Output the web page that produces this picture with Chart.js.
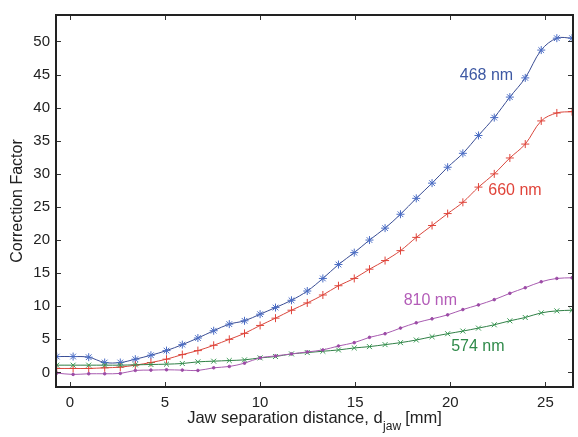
<!DOCTYPE html>
<html>
<head>
<meta charset="utf-8">
<script src="https://cdn.jsdelivr.net/npm/chart.js@4/dist/chart.umd.min.js"></script>
<style>
html,body{margin:0;padding:0;background:#fff;}
#wrap{width:578px;height:437px;position:relative;}
</style>
</head>
<body>
<div id="wrap"><canvas id="c" width="578" height="437"></canvas></div>
<script>
// Jaw separation distance (mm)
const jawDistance = [-0.69, 0.17, 0.99, 1.83, 2.65, 3.44, 4.26, 5.08, 5.91, 6.73, 7.56, 8.38, 9.18, 10.00, 10.81, 11.65, 12.48, 13.30, 14.12, 14.95, 15.75, 16.57, 17.38, 18.21, 19.04, 19.86, 20.66, 21.48, 22.31, 23.13, 23.94, 24.78, 25.60, 26.40];
// Correction factor per wavelength
const cf468 = [2.4, 2.4, 2.3, 1.5, 1.5, 2.0, 2.6, 3.3, 4.2, 5.2, 6.3, 7.3, 7.8, 8.8, 9.8, 10.9, 12.3, 14.2, 16.3, 18.1, 20.0, 21.8, 23.9, 26.3, 28.6, 31.0, 33.1, 35.8, 38.5, 41.6, 44.5, 48.7, 50.5, 50.5];
const cf660 = [0.6, 0.6, 0.6, 0.7, 0.8, 1.1, 1.5, 2.0, 2.7, 3.3, 4.1, 5.0, 5.9, 7.1, 8.2, 9.4, 10.5, 11.7, 13.1, 14.2, 15.6, 16.9, 18.4, 20.4, 22.2, 24.0, 25.7, 28.0, 30.0, 32.4, 34.5, 38.0, 39.2, 39.4];
const cf574 = [1.1, 1.1, 1.1, 1.1, 1.1, 1.15, 1.2, 1.25, 1.35, 1.6, 1.7, 1.8, 1.9, 2.2, 2.4, 2.8, 3.0, 3.2, 3.4, 3.7, 3.9, 4.2, 4.5, 4.9, 5.4, 5.85, 6.25, 6.7, 7.2, 7.8, 8.3, 9.0, 9.3, 9.4];
const cf810 = [-0.1, -0.3, -0.2, -0.2, -0.15, 0.3, 0.35, 0.4, 0.35, 0.3, 0.7, 0.9, 1.4, 2.2, 2.5, 2.8, 3.1, 3.4, 4.0, 4.5, 5.3, 5.85, 6.7, 7.5, 8.1, 8.7, 9.5, 10.2, 11.0, 11.95, 12.8, 13.7, 14.2, 14.3];
const seriesNames = ["468 nm", "660 nm", "574 nm", "810 nm"];
const xTicks = [0, 5, 10, 15, 20, 25];
const yTicks = [0, 5, 10, 15, 20, 25, 30, 35, 40, 45, 50];

const toPts = ys => jawDistance.map((x, i) => ({x: x, y: ys[i]}));

const FONT = '"Liberation Sans", Arial, Helvetica, sans-serif';

const decor = {
  id: 'decor',
  afterDraw(chart) {
    const ctx = chart.ctx;
    const a = chart.chartArea;
    const xs = chart.scales.x, ys = chart.scales.y;
    ctx.save();
    // inward ticks
    ctx.strokeStyle = '#333';
    ctx.lineWidth = 1;
    ctx.beginPath();
    xTicks.forEach(v => {
      const px = Math.round(xs.getPixelForValue(v)) + 0.5;
      ctx.moveTo(px, a.bottom); ctx.lineTo(px, a.bottom - 5);
      ctx.moveTo(px, a.top); ctx.lineTo(px, a.top + 5);
    });
    yTicks.forEach(v => {
      const py = Math.round(ys.getPixelForValue(v)) + 0.5;
      ctx.moveTo(a.left, py); ctx.lineTo(a.left + 5, py);
      ctx.moveTo(a.right, py); ctx.lineTo(a.right - 5, py);
    });
    ctx.stroke();
    // frame
    ctx.strokeStyle = '#222';
    ctx.lineWidth = 2;
    ctx.strokeRect(a.left, a.top, a.right - a.left, a.bottom - a.top);

    // y title
    ctx.fillStyle = '#222';
    ctx.font = '16px ' + FONT;
    ctx.textAlign = 'center';
    ctx.textBaseline = 'middle';
    ctx.save();
    ctx.translate(18, (a.top + a.bottom) / 2);
    ctx.rotate(-Math.PI / 2);
    ctx.fillText('Correction Factor', 0, 0);
    ctx.restore();

    // x title with subscript
    const main = 'Jaw separation distance, d';
    const sub = 'jaw';
    const tail = ' [mm]';
    ctx.font = '16.5px ' + FONT;
    const wMain = ctx.measureText(main).width;
    const wTail = ctx.measureText(tail).width;
    ctx.font = '12px ' + FONT;
    const wSub = ctx.measureText(sub).width;
    const total = wMain + wSub + wTail;
    let x0 = (a.left + a.right) / 2 - total / 2;
    const yBase = 423;
    ctx.textAlign = 'left';
    ctx.textBaseline = 'alphabetic';
    ctx.font = '16.5px ' + FONT;
    ctx.fillText(main, x0, yBase);
    ctx.font = '12px ' + FONT;
    ctx.fillText(sub, x0 + wMain + 0.5, yBase + 7);
    ctx.font = '16.5px ' + FONT;
    ctx.fillText(tail, x0 + wMain + wSub, yBase);

    // series labels
    const labels = [
      {t: seriesNames[0], x: 21.9, y: 44.8, c: '#3d58a3'},
      {t: seriesNames[1], x: 23.4, y: 27.5, c: '#e0443a'},
      {t: seriesNames[3], x: 18.95, y: 10.9, c: '#b35cb8'},
      {t: seriesNames[2], x: 21.45, y: 3.9, c: '#2f8a4a'}
    ];
    ctx.font = '16px ' + FONT;
    ctx.textAlign = 'center';
    ctx.textBaseline = 'middle';
    labels.forEach(l => {
      ctx.fillStyle = l.c;
      ctx.fillText(l.t, xs.getPixelForValue(l.x), ys.getPixelForValue(l.y));
    });
    ctx.restore();
  }
};

function ds(label, ys, line, mark, style, r) {
  return {
    label: label,
    data: toPts(ys),
    borderColor: line,
    backgroundColor: mark,
    pointBorderColor: mark,
    pointBackgroundColor: mark,
    pointStyle: style,
    pointRadius: r,
    pointBorderWidth: 1,
    borderWidth: 1,
    tension: 0.35,
    fill: false
  };
}

new Chart(document.getElementById('c'), {
  type: 'line',
  data: {
    datasets: [
      ds(seriesNames[3], cf810, '#a85bb0', '#9b4aa5', 'circle', 1.3),
      ds(seriesNames[2], cf574, '#2f7f45', '#3a9a55', 'crossRot', 3.5),
      ds(seriesNames[1], cf660, '#d9473d', '#e0443a', 'cross', 4),
      ds(seriesNames[0], cf468, '#3a4d94', '#4a6cc4', 'star', 4)
    ]
  },
  options: {
    responsive: false,
    animation: false,
    devicePixelRatio: 1,
    layout: {padding: {top: 9, right: 1, left: 0, bottom: 0}},
    plugins: {legend: {display: false}, tooltip: {enabled: false}},
    scales: {
      x: {
        type: 'linear',
        min: -0.73, max: 26.45,
        grid: {display: false, drawTicks: false},
        border: {display: false},
        ticks: {stepSize: 5, includeBounds: false, padding: 7, color: '#222', font: {family: FONT, size: 15}, maxRotation: 0},
        afterFit(s) { s.height = 50; }
      },
      y: {
        min: -2.2, max: 54,
        grid: {display: false, drawTicks: false},
        border: {display: false},
        ticks: {stepSize: 5, includeBounds: false, padding: 6, color: '#222', font: {family: FONT, size: 15}},
        afterFit(s) { s.width = 56; }
      }
    }
  },
  plugins: [decor]
});
</script>
</body>
</html>
